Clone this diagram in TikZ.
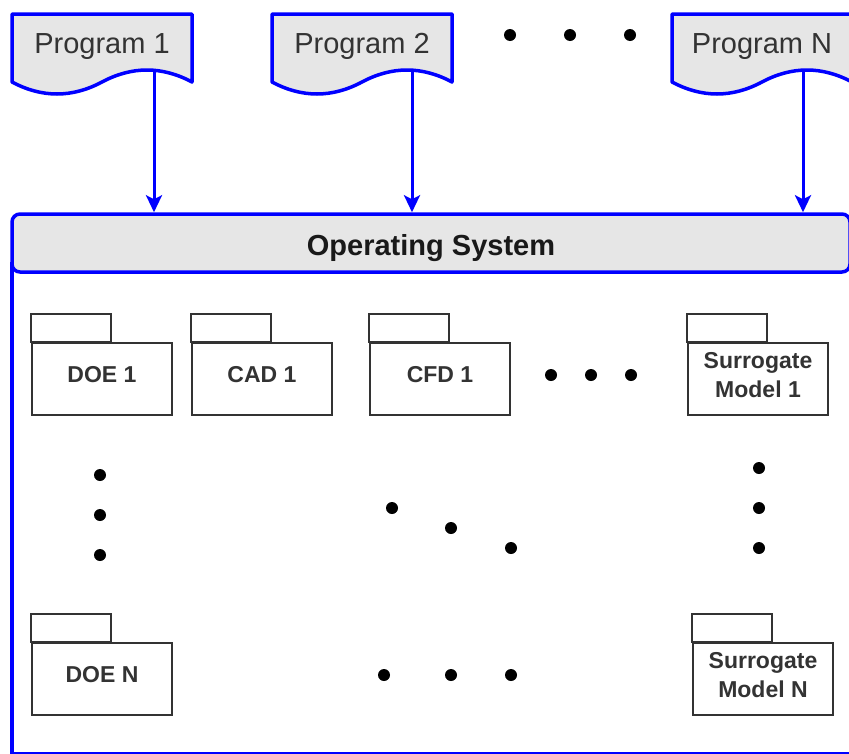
\documentclass[tikz,border=0pt]{standalone}
\usepackage{fontspec}
\setmainfont{Liberation Sans}
\usetikzlibrary{arrows.meta}
\definecolor{linkblue}{HTML}{0000FF}
\definecolor{headgray}{HTML}{E6E6E6}
\definecolor{inkgray}{HTML}{333333}

% Document-shaped program box with a wavy bottom edge, left edge at #1
\newcommand\progdoc[1]{%
  \begin{scope}[xshift=#1pt]
    \path[docline] (0,14) -- (180,14) -- (180,82)
      .. controls (150,66) and (120,66) .. (90,82)
      .. controls (60,98) and (30,98) .. (0,82) -- cycle;
  \end{scope}}

% Folder tab on top of a package body node
\newcommand\pkgtabfor[1]{%
  \draw[pkgtab] (#1.north west) rectangle ++(80,-28);}

\begin{document}
\begin{tikzpicture}[x=1pt,y=-1pt,
  flow/.style={draw=linkblue, line width=3pt,
    -{Stealth[length=17pt,width=16pt,inset=4pt]}},
  docline/.style={draw=linkblue, line width=3.5pt, fill=headgray, line join=round},
  progtext/.style={font=\fontsize{29}{34}\selectfont, text=inkgray, inner sep=0pt},
  pkgbody/.style={draw=inkgray, line width=2pt, fill=white,
    minimum width=140pt, minimum height=72pt, inner sep=0pt,
    font=\bfseries\fontsize{23}{29}\selectfont, text=inkgray,
    text height=17pt, text depth=10pt},
  pkgtwo/.style={pkgbody, align=center, text height=46pt, text depth=10pt},
  pkgtab/.style={draw=inkgray, line width=2pt, fill=white},
  dot/.style={circle, fill=black, inner sep=0pt, minimum size=12pt},
]
\useasboundingbox (0,0) rectangle (849,753);

% ---- program documents ----
\progdoc{12}
\progdoc{272}
\progdoc{672}
\node[progtext, anchor=base] (prog1) at (102,53) {Program 1};
\node[progtext, anchor=base] (prog2) at (362,53) {Program 2};
\node[progtext, anchor=base] (progN) at (762,53) {Program N};
\coordinate (p1out) at (154,70);
\coordinate (p2out) at (412,70);
\coordinate (pNout) at (803,70);

\node[dot] (td1) at (510,35) {};
\node[dot] (td2) at (570,35) {};
\node[dot] (td3) at (630,35) {};

% ---- operating system container ----
\path[draw=linkblue, line width=3.5pt, line join=round]
  (12,262) -- (12,754) -- (853,754) -- (853,262);
\node[draw=linkblue, line width=3.5pt, fill=headgray, rounded corners=8pt,
  minimum width=838pt, minimum height=58pt, inner sep=0pt,
  font=\bfseries\fontsize{29}{34}\selectfont, text=black!90,
  text height=27pt, text depth=3pt] (os) at (431,243) {Operating System};

% ---- program arrows ----
\draw[flow] (p1out) -- (p1out |- os.north);
\draw[flow] (p2out) -- (p2out |- os.north);
\draw[flow] (pNout) -- (pNout |- os.north);

% ---- packages ----
\node[pkgbody] (doe1) at (102,378.5) {DOE 1};
\node[pkgbody] (cad1) at (262,378.5) {CAD 1};
\node[pkgbody] (cfd1) at (440,378.5) {CFD 1};
\node[pkgtwo]  (sm1)  at (758,379) {Surrogate\\Model 1};
\node[pkgbody] (doeN) at (102,679) {DOE N};
\node[pkgtwo]  (smN)  at (763,679) {Surrogate\\Model N};
\pkgtabfor{doe1}
\pkgtabfor{cad1}
\pkgtabfor{cfd1}
\pkgtabfor{sm1}
\pkgtabfor{doeN}
\pkgtabfor{smN}

% ---- ellipsis dots ----
\node[dot] (r1) at (551,375) {};
\node[dot] (r2) at (591,375) {};
\node[dot] (r3) at (631,375) {};

\node[dot] (l1) at (100,475) {};
\node[dot] (l2) at (100,515) {};
\node[dot] (l3) at (100,555) {};

\node[dot] (d1) at (392,508) {};
\node[dot] (d2) at (451,528) {};
\node[dot] (d3) at (511,548) {};

\node[dot] (v1) at (759,468) {};
\node[dot] (v2) at (759,508) {};
\node[dot] (v3) at (759,548) {};

\node[dot] (b1) at (384,675) {};
\node[dot] (b2) at (451,675) {};
\node[dot] (b3) at (511,675) {};
\end{tikzpicture}
\end{document}
